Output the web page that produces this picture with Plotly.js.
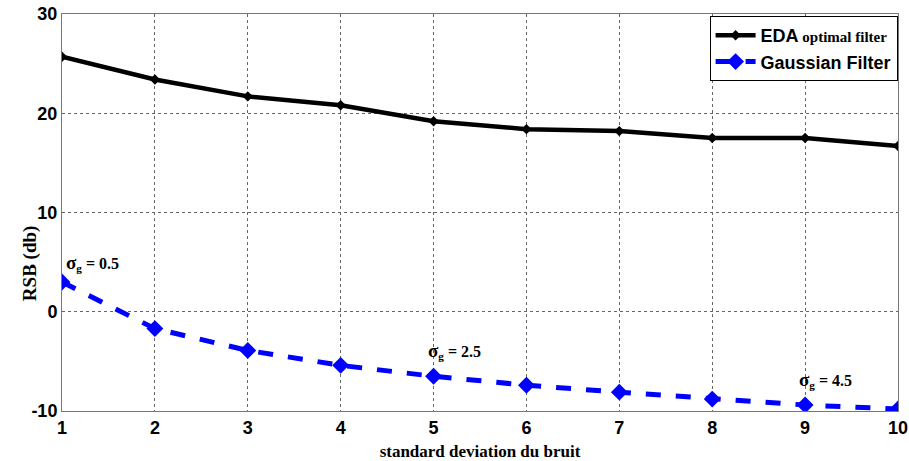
<!DOCTYPE html>
<html><head><meta charset="utf-8">
<script src="https://cdn.plot.ly/plotly-3.0.1.min.js"></script>
<style>body{margin:0;background:#fff}#c{width:909px;height:461px}</style>
</head><body><div id="c"></div>
<script>
const xVals = [1,2,3,4,5,6,7,8,9,10];
const edaVals = [25.7,23.4,21.7,20.8,19.2,18.4,18.2,17.5,17.5,16.7];
const gaussVals = [3.0,-1.7,-3.9,-5.4,-6.5,-7.4,-8.1,-8.8,-9.4,-9.8];
const annX = [1,5,9];
const annY = [3.0,-6.5,-9.4];
const annLabels = ["0.5","2.5","4.5"];
const yTicks = [-10,0,10,20,30];
const yTickText = ["-10","0","10","20","30"];

const serif = "Liberation Serif, Times New Roman, serif";
const sans = "Liberation Sans, Arial, sans-serif";

const traces = [
 {x:xVals,y:edaVals,mode:'lines+markers',name:"<b>EDA</b><b><span style='font-family:Liberation Serif;font-size:15px'> optimal filter</span></b>",
  line:{color:'#000',width:4.5},marker:{symbol:'diamond',size:8,color:'#000'}},
 {x:xVals,y:gaussVals,mode:'lines+markers',name:"<b>Gaussian Filter</b>",
  line:{color:'#0000ff',width:5,dash:'dash'},marker:{symbol:'diamond',size:13,color:'#0000ff'}}
];

const annotations = annX.map((x,i)=>({
  x:x,y:annY[i],xref:'x',yref:'y',
  text:"<span style='font-size:19px'>σ</span><sub>g</sub> = "+annLabels[i],
  showarrow:false,xanchor:'left',yanchor:'bottom',xshift:i===0?2:-8,yshift:i===0?6:12,
  font:{family:serif,size:16,color:'#000',weight:'bold'}
}));
annotations.push({
  text:'RSB (db)',xref:'paper',yref:'paper',x:-0.038,y:0.373,xanchor:'center',yanchor:'middle',
  textangle:-90,showarrow:false,font:{family:serif,size:19,color:'#000',weight:'bold'}
});

const layout = {
  width:909,height:461,
  margin:{l:62,r:11,t:14,b:50},
  paper_bgcolor:'#fff',plot_bgcolor:'#fff',
  showlegend:true,
  legend:{x:0.9995,y:0.995,xanchor:'right',yanchor:'top',bgcolor:'#fff',bordercolor:'#000',borderwidth:1,
    font:{family:sans,size:18,color:'#000'},tracegroupgap:16,itemwidth:40},
  xaxis:{range:[1,10],tickvals:xVals,showgrid:true,gridcolor:'#666',griddash:'dot',gridwidth:1,
    zeroline:false,showline:true,linecolor:'#777',linewidth:1,mirror:true,ticks:'',
    tickfont:{family:sans,size:18,color:'#000',weight:'bold'},
    title:{text:'standard deviation du bruit',font:{family:serif,size:17,color:'#000',weight:'bold'},standoff:8}},
  yaxis:{range:[-10,30],tickvals:yTicks,ticktext:yTickText,showgrid:true,gridcolor:'#666',griddash:'dot',gridwidth:1,
    zeroline:false,showline:true,linecolor:'#777',linewidth:1,mirror:true,ticks:'',
    tickfont:{family:sans,size:18,color:'#000',weight:'bold'}},
  annotations:annotations
};
Plotly.newPlot('c',traces,layout,{displayModeBar:false,staticPlot:true});
</script></body></html>
